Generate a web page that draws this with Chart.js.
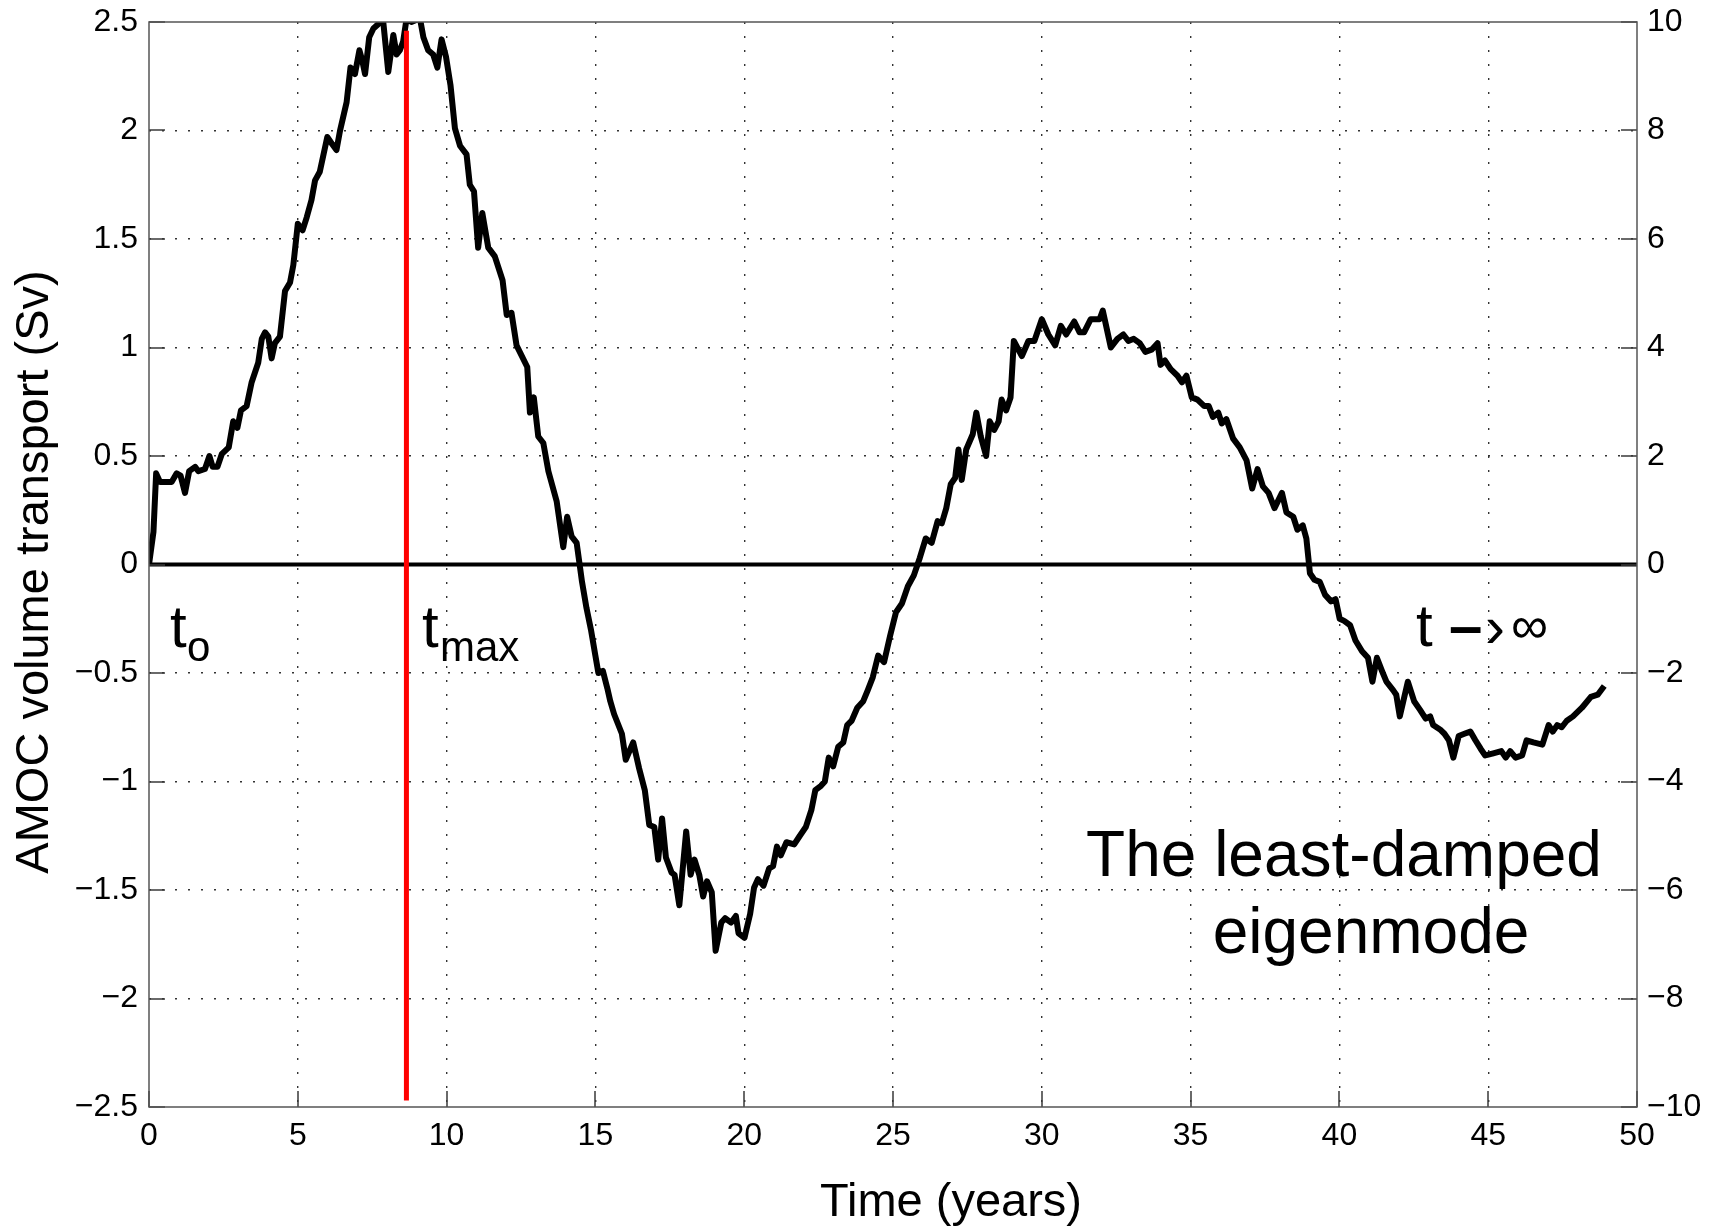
<!DOCTYPE html>
<html>
<head>
<meta charset="utf-8">
<title>AMOC least-damped eigenmode</title>
<script src="https://cdn.jsdelivr.net/npm/chart.js@4.4.1/dist/chart.umd.min.js"></script>
<style>
    html, body { margin: 0; padding: 0; background: #fff; }
    #wrap { width: 1709px; height: 1228px; position: relative; }
</style>
</head>
<body>
<div id="wrap"><canvas id="amocChart"></canvas></div>
<script>
// Values
const timeYears = [
    0.0, 0.15, 0.24, 0.37, 0.59, 0.76, 0.93, 1.06, 1.21, 1.35, 1.55, 1.66, 1.88, 2.03, 2.14, 2.30, 2.45, 2.68, 2.83, 2.97,
    3.09, 3.28, 3.45, 3.67, 3.79, 3.90, 4.01, 4.12, 4.23, 4.40, 4.57, 4.74, 4.85, 5.00, 5.16, 5.30, 5.46, 5.58, 5.74, 5.99,
    6.14, 6.30, 6.42, 6.64, 6.77, 6.92, 7.07, 7.17, 7.26, 7.40, 7.54, 7.70, 7.85, 8.04, 8.21, 8.32, 8.43, 8.54, 8.66, 8.82,
    9.00, 9.10, 9.22, 9.38, 9.55, 9.69, 9.83, 9.98, 10.13, 10.28, 10.45, 10.67, 10.78, 10.92, 11.06, 11.20, 11.40, 11.62, 11.88, 12.02,
    12.18, 12.35, 12.71, 12.80, 12.93, 13.08, 13.25, 13.42, 13.70, 13.92, 14.05, 14.20, 14.37, 14.48, 14.55, 14.70, 14.85, 15.00, 15.10, 15.25,
    15.40, 15.50, 15.63, 15.89, 16.02, 16.27, 16.47, 16.66, 16.81, 16.98, 17.11, 17.24, 17.37, 17.56, 17.66, 17.82, 18.05, 18.20, 18.33, 18.49,
    18.62, 18.75, 18.91, 19.04, 19.23, 19.36, 19.56, 19.72, 19.81, 20.01, 20.20, 20.33, 20.46, 20.65, 20.84, 20.97, 21.10, 21.23, 21.42, 21.68,
    21.87, 22.07, 22.26, 22.39, 22.58, 22.71, 22.84, 22.99, 23.16, 23.33, 23.46, 23.61, 23.80, 24.00, 24.15, 24.32, 24.50, 24.70, 24.90, 25.10,
    25.30, 25.50, 25.70, 25.90, 26.10, 26.30, 26.50, 26.64, 26.79, 26.94, 27.09, 27.20, 27.31, 27.46, 27.68, 27.80, 27.95, 28.13, 28.25, 28.40,
    28.55, 28.65, 28.80, 28.95, 29.06, 29.33, 29.55, 29.75, 30.00, 30.22, 30.45, 30.64, 30.82, 31.09, 31.27, 31.42, 31.64, 31.94, 32.05, 32.32,
    32.54, 32.74, 32.91, 33.09, 33.29, 33.48, 33.69, 33.89, 33.99, 34.14, 34.33, 34.56, 34.71, 34.86, 35.04, 35.23, 35.46, 35.61, 35.75, 35.93,
    36.05, 36.20, 36.43, 36.65, 36.88, 37.07, 37.25, 37.43, 37.62, 37.82, 38.07, 38.22, 38.45, 38.59, 38.77, 38.89, 39.01, 39.16, 39.34, 39.52,
    39.72, 39.87, 40.01, 40.16, 40.36, 40.54, 40.76, 40.96, 41.11, 41.26, 41.43, 41.58, 41.81, 41.91, 42.03, 42.30, 42.51, 42.71, 42.90, 43.05,
    43.15, 43.38, 43.53, 43.68, 43.83, 44.01, 44.20, 44.40, 44.57, 44.75, 44.90, 45.17, 45.44, 45.59, 45.74, 45.92, 46.14, 46.29, 46.52, 46.82,
    47.03, 47.17, 47.32, 47.47, 47.64, 47.85, 48.15, 48.45, 48.68, 48.90,
]
const transportSv = [
    0.00, 0.15, 0.42, 0.38, 0.38, 0.38, 0.42, 0.41, 0.33, 0.43, 0.45, 0.43, 0.44, 0.50, 0.45, 0.45, 0.51, 0.54, 0.66, 0.63,
    0.71, 0.73, 0.84, 0.93, 1.04, 1.07, 1.05, 0.95, 1.02, 1.05, 1.26, 1.30, 1.38, 1.57, 1.54, 1.60, 1.68, 1.77, 1.81, 1.97,
    1.94, 1.91, 2.00, 2.13, 2.29, 2.26, 2.37, 2.32, 2.26, 2.43, 2.47, 2.49, 2.53, 2.27, 2.44, 2.35, 2.37, 2.41, 2.52, 2.50,
    2.51, 2.52, 2.43, 2.37, 2.35, 2.29, 2.42, 2.34, 2.21, 2.01, 1.93, 1.89, 1.75, 1.72, 1.46, 1.62, 1.46, 1.42, 1.31, 1.15,
    1.16, 1.01, 0.91, 0.70, 0.77, 0.59, 0.56, 0.43, 0.29, 0.08, 0.22, 0.13, 0.10, -0.01, -0.08, -0.20, -0.30, -0.42, -0.50, -0.49,
    -0.57, -0.63, -0.69, -0.78, -0.90, -0.82, -0.94, -1.04, -1.20, -1.21, -1.36, -1.17, -1.35, -1.42, -1.43, -1.57, -1.23, -1.43, -1.36, -1.43,
    -1.53, -1.46, -1.51, -1.78, -1.65, -1.63, -1.65, -1.62, -1.70, -1.72, -1.61, -1.49, -1.45, -1.48, -1.40, -1.39, -1.30, -1.34, -1.28, -1.29,
    -1.25, -1.21, -1.13, -1.04, -1.02, -1.00, -0.89, -0.93, -0.84, -0.82, -0.74, -0.72, -0.66, -0.63, -0.58, -0.52, -0.42, -0.45, -0.33, -0.22,
    -0.18, -0.10, -0.05, 0.03, 0.12, 0.10, 0.20, 0.19, 0.26, 0.37, 0.40, 0.53, 0.39, 0.53, 0.60, 0.70, 0.59, 0.50, 0.66, 0.62,
    0.66, 0.76, 0.71, 0.77, 1.03, 0.96, 1.03, 1.03, 1.13, 1.06, 1.01, 1.10, 1.06, 1.12, 1.07, 1.07, 1.13, 1.13, 1.17, 1.00,
    1.04, 1.06, 1.03, 1.04, 1.02, 0.98, 0.99, 1.02, 0.92, 0.94, 0.90, 0.87, 0.84, 0.87, 0.77, 0.76, 0.73, 0.73, 0.68, 0.70,
    0.65, 0.67, 0.58, 0.54, 0.48, 0.35, 0.44, 0.36, 0.33, 0.26, 0.33, 0.24, 0.22, 0.16, 0.18, 0.12, -0.04, -0.07, -0.08, -0.14,
    -0.17, -0.16, -0.25, -0.26, -0.28, -0.35, -0.40, -0.43, -0.54, -0.43, -0.49, -0.54, -0.58, -0.60, -0.70, -0.54, -0.63, -0.67, -0.71, -0.70,
    -0.74, -0.76, -0.78, -0.81, -0.89, -0.79, -0.78, -0.77, -0.81, -0.85, -0.88, -0.87, -0.86, -0.89, -0.86, -0.89, -0.88, -0.81, -0.82, -0.83,
    -0.74, -0.77, -0.74, -0.75, -0.72, -0.70, -0.66, -0.61, -0.60, -0.56,
]
const tMaxYear = 8.65
const tMaxSpan = [-2.47, 2.46]
const zeroLineX = [0, 50]

// Axis ranges and tick steps
const xRange = [0, 50]
const xStep = 5
const leftRange = [-2.5, 2.5]
const leftStep = 0.5
const rightRange = [-10, 10]
const rightStep = 2

const FONT = "'Liberation Sans', Arial, Helvetica, sans-serif"
const minus = (v) => String(v).replace("-", "\u2212")

// pin the axis boxes so the plot area lands where the figure has it
const fixWidth = (w) => (s) => {
    s.width = w
    s.paddingTop = 0
    s.paddingBottom = 0
}
const fixHeight = (h) => (s) => {
    s.height = h
    s.paddingLeft = 0
    s.paddingRight = 0
}

// Frame, inward ticks, axis titles and annotations (MATLAB look)
const matlabFrame = {
    id: "matlabFrame",
    afterDatasetsDraw(chart) {
        const { ctx, chartArea: a, scales } = chart
        const tick = 16
        ctx.save()

        ctx.strokeStyle = "#3a3a3a"
        ctx.lineWidth = 1.5
        ctx.beginPath()
        scales.x.ticks.forEach((t) => {
            const px = Math.round(scales.x.getPixelForValue(t.value))
            ctx.moveTo(px, a.bottom)
            ctx.lineTo(px, a.bottom - tick)
        })
        scales.y.ticks.forEach((t) => {
            const py = Math.round(scales.y.getPixelForValue(t.value))
            ctx.moveTo(a.left, py)
            ctx.lineTo(a.left + tick, py)
        })
        scales.y2.ticks.forEach((t) => {
            const py = Math.round(scales.y2.getPixelForValue(t.value))
            ctx.moveTo(a.right, py)
            ctx.lineTo(a.right - tick, py)
        })
        ctx.stroke()

        ctx.strokeStyle = "#555"
        ctx.lineWidth = 1.5
        ctx.strokeRect(a.left, a.top, a.right - a.left, a.bottom - a.top)

        // axis titles
        ctx.fillStyle = "#000"
        ctx.font = "47px " + FONT
        ctx.textAlign = "center"
        ctx.textBaseline = "alphabetic"
        ctx.fillText("Time (years)", 951, 1216)

        ctx.save()
        ctx.translate(48, 572)
        ctx.rotate(-Math.PI / 2)
        ctx.fillText("AMOC volume transport (Sv)", 0, 0)
        ctx.restore()

        // annotations
        ctx.textAlign = "left"
        ctx.font = "60px " + FONT
        ctx.fillText("t", 170, 647)
        ctx.fillText("t", 422, 647)
        ctx.font = "42px " + FONT
        ctx.fillText("o", 187, 661)
        ctx.fillText("max", 440, 661)

        ctx.font = "60px " + FONT
        ctx.fillText("t", 1416, 646)
        ctx.font = "bold 60px " + FONT
        ctx.fillText("\u2013", 1449, 646)
        ctx.font = "60px " + FONT
        ctx.fillText("\u203A", 1485, 647)
        ctx.font = "52px " + FONT
        ctx.fillText("\u221E", 1511, 643)

        ctx.font = "64px " + FONT
        ctx.textAlign = "center"
        ctx.fillText("The least-damped", 1344, 876)
        ctx.fillText("eigenmode", 1371, 953)

        ctx.restore()
    },
}

const curvePoints = timeYears.map((t, i) => ({ x: t, y: transportSv[i] }))
const tMaxPoints = tMaxSpan.map((v) => ({ x: tMaxYear, y: v }))
const zeroPoints = zeroLineX.map((t) => ({ x: t, y: 0 }))

new Chart(document.getElementById("amocChart"), {
    type: "line",
    data: {
        datasets: [
            {
                label: "t max",
                data: tMaxPoints,
                borderColor: "#ff0000",
                borderWidth: 5,
                pointRadius: 0,
                order: 0,
            },
            {
                label: "AMOC",
                data: curvePoints,
                borderColor: "#000",
                borderWidth: 6,
                pointRadius: 0,
                tension: 0,
                borderJoinStyle: "round",
                order: 1,
            },
            {
                label: "zero",
                data: zeroPoints,
                borderColor: "#000",
                borderWidth: 4,
                pointRadius: 0,
                order: 2,
            },
        ],
    },
    options: {
        responsive: true,
        maintainAspectRatio: false,
        animation: false,
        devicePixelRatio: 1,
        layout: { padding: { top: 22, left: 0, right: 0, bottom: 0 } },
        plugins: {
            legend: { display: false },
            tooltip: { enabled: false },
        },
        scales: {
            x: {
                type: "linear",
                min: xRange[0],
                max: xRange[1],
                afterFit: fixHeight(121),
                ticks: {
                    stepSize: xStep,
                    padding: 10,
                    color: "#000",
                    font: { family: FONT, size: 32 },
                    maxRotation: 0,
                },
                grid: {
                    color: (c) => (c.tick && (c.tick.value === xRange[0] || c.tick.value === xRange[1]) ? "rgba(0,0,0,0)" : "#333"),
                    lineWidth: 1.4,
                    drawTicks: false,
                },
                border: { display: false, dash: [2, 12] },
            },
            y: {
                position: "left",
                min: leftRange[0],
                max: leftRange[1],
                afterFit: fixWidth(149),
                ticks: {
                    stepSize: leftStep,
                    padding: 11,
                    color: "#000",
                    font: { family: FONT, size: 32 },
                    callback: (v) => minus(v),
                },
                grid: {
                    color: (c) => (c.tick && (c.tick.value === leftRange[0] || c.tick.value === leftRange[1]) ? "rgba(0,0,0,0)" : "#333"),
                    lineWidth: 1.4,
                    drawTicks: false,
                },
                border: { display: false, dash: [2, 11] },
            },
            y2: {
                position: "right",
                min: rightRange[0],
                max: rightRange[1],
                afterFit: fixWidth(72),
                ticks: {
                    stepSize: rightStep,
                    padding: 10,
                    color: "#000",
                    font: { family: FONT, size: 32 },
                    callback: (v) => minus(v),
                },
                grid: { drawOnChartArea: false, drawTicks: false },
                border: { display: false },
            },
        },
    },
    plugins: [matlabFrame],
})
</script>
</body>
</html>
